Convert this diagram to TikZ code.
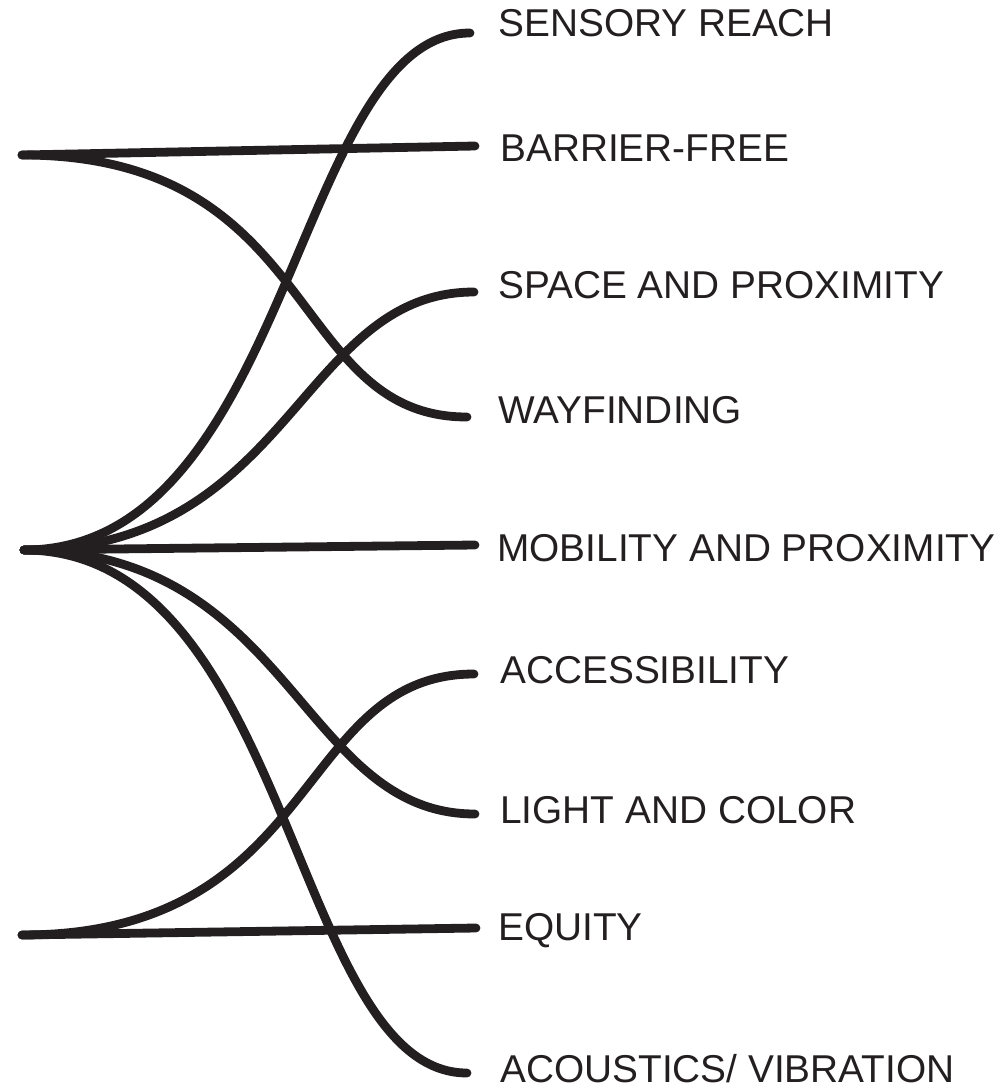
\documentclass[tikz,border=0pt]{standalone}
\usepackage{fontspec}
\setmainfont{Liberation Sans}
\usetikzlibrary{positioning}
\definecolor{inkDark}{HTML}{231F20}
\tikzset{
    factor/.style={anchor=west,inner sep=0pt,text=inkDark,font=\fontsize{19.4}{19.4}\selectfont},
    strand/.style={draw=inkDark,line width=4.4pt,line cap=round}
}
\begin{document}
\begin{tikzpicture}[x=0.5pt,y=-0.5pt]
  \useasboundingbox (0,0) rectangle (1001,1089);

  % Three origins on the left
  \coordinate (hubtop) at (22,155);
  \coordinate (hubmid) at (24,550);
  \coordinate (hubbot) at (22,935);

  % Factor labels
  \node[factor] (sensory) at (498,23.5) {SENSORY REACH};
  \node[factor] (barrier) at (500,148.5) {BARRIER-FREE};
  \node[factor] (space) at (498,285) {SPACE AND PROXIMITY};
  \node[factor] (wayfind) at (498,410) {WAYFINDING};
  \node[factor] (mobility) at (497,548) {MOBILITY AND PROXIMITY};
  \node[factor] (access) at (500,670) {ACCESSIBILITY};
  \node[factor] (light) at (500,810) {LIGHT AND COLOR};
  \node[factor] (equity) at (498,931) {EQUITY};
  \node[factor] (acoustic) at (500,1068.5) {ACOUSTICS/ VIBRATION};

  % Where each strand ends
  \coordinate (sensory-in) at (470,33);
  \coordinate (barrier-in) at (475,146);
  \coordinate (space-in) at (474,292);
  \coordinate (wayfind-in) at (467,417);
  \coordinate (mobility-in) at (475,545);
  \coordinate (access-in) at (474,674);
  \coordinate (light-in) at (475,814);
  \coordinate (equity-in) at (476,928);
  \coordinate (acoustic-in) at (467,1073);

  % Strands from the top origin
  \draw[strand] (hubtop) -- (barrier-in);
  \draw[strand] (hubtop) .. controls +(300,0) and +(-180,0) .. (wayfind-in);

  % Strands from the middle origin
  \draw[strand] (hubmid) .. controls +(268,0) and +(-175,0) .. (sensory-in);
  \draw[strand] (hubmid) .. controls +(268,0) and +(-175,0) .. (space-in);
  \draw[strand] (hubmid) -- (mobility-in);
  \draw[strand] (hubmid) .. controls +(268,0) and +(-175,0) .. (light-in);
  \draw[strand] (hubmid) .. controls +(268,0) and +(-175,0) .. (acoustic-in);

  % Strands from the bottom origin
  \draw[strand] (hubbot) .. controls +(300,0) and +(-180,0) .. (access-in);
  \draw[strand] (hubbot) -- (equity-in);
\end{tikzpicture}
\end{document}
